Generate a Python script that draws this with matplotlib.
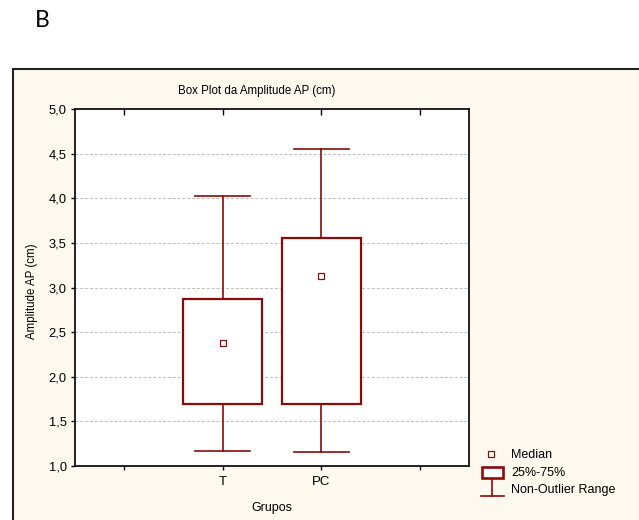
import matplotlib
matplotlib.use("Agg")
import matplotlib.pyplot as plt
from matplotlib.patches import Rectangle
from matplotlib.lines import Line2D

plt.rcParams['font.family'] = ['Liberation Sans', 'DejaVu Sans']

# Box plot statistics per group
groups = ["T", "PC"]
medians = [2.38, 3.13]
q1 = [1.69, 1.69]
q3 = [2.875, 3.555]
whisk_lo = [1.17, 1.16]
whisk_hi = [4.02, 4.55]

y_ticks = [1.0, 1.5, 2.0, 2.5, 3.0, 3.5, 4.0, 4.5, 5.0]
y_tick_labels = ["1,0", "1,5", "2,0", "2,5", "3,0", "3,5", "4,0", "4,5", "5,0"]

RED = "#8B0A0A"
W, H = 639, 520

fig = plt.figure(figsize=(W / 100, H / 100), dpi=100)
fig.patch.set_facecolor("white")

# Outer panel frame
frame = Rectangle((13 / W, -0.05), 1.2, (H - 69) / H + 0.05,
                  transform=fig.transFigure, facecolor="#FDF9EF",
                  edgecolor="#222222", linewidth=1.5, zorder=-5)
fig.patches.append(frame)

fig.text(42 / W, 1 - 20.5 / H, "B", fontsize=16.5, family=["Lato", "DejaVu Sans"],
         ha="center", va="center")

ax = fig.add_axes([75 / W, (H - 466) / H, (469 - 75) / W, (466 - 109) / H], zorder=2)
ax.set_facecolor("white")

positions = [1, 2]
stats = []
for g, m, a, b, lo, hi in zip(groups, medians, q1, q3, whisk_lo, whisk_hi):
    stats.append(dict(label=g, med=m, q1=a, q3=b, whislo=lo, whishi=hi, fliers=[]))

ax.bxp(stats, positions=positions, widths=0.8, showfliers=False,
       patch_artist=True,
       boxprops=dict(facecolor="white", edgecolor=RED, linewidth=1.6),
       whiskerprops=dict(color=RED, linewidth=1.2),
       capprops=dict(color=RED, linewidth=1.2),
       capwidths=0.56,
       medianprops=dict(linewidth=0), zorder=3)
ax.plot(positions, medians, linestyle="none", marker="s", markersize=4,
        markerfacecolor="white", markeredgecolor=RED, markeredgewidth=0.9, zorder=4)

ax.set_xlim(-0.5, 3.5)
ax.set_ylim(1.0, 5.0)
ax.set_xticks([0, 1, 2, 3])
ax.set_xticklabels(["", "T", "PC", ""], fontsize=9.5)
ax.set_yticks(y_ticks)
ax.set_yticklabels(y_tick_labels, fontsize=9.3)
ax.tick_params(axis="x", direction="out", length=3, width=1, top=False, pad=4)
ax.tick_params(axis="y", direction="out", length=3, width=1, right=False, pad=3)

# top ticks point inward
sec = ax.secondary_xaxis("top")
sec.set_xticks([0, 1, 2, 3])
sec.set_xticklabels([])
sec.tick_params(direction="in", length=4, width=1)
sec.spines["top"].set_visible(False)

for y in y_ticks[1:-1]:
    ax.axhline(y, color="#BDBDBD", linestyle=(0, (3, 2)), linewidth=0.7, zorder=1)

for s in ax.spines.values():
    s.set_linewidth(1.3)
    s.set_color("#111111")

ax.set_xlabel("Grupos", fontsize=9)
ax.xaxis.set_label_coords(0.5, (466 - 508) / (466 - 109))
ax.xaxis.label.set_va("center")
ax.set_ylabel("Amplitude AP (cm)", fontsize=8.3)
ax.yaxis.set_label_coords((32 - 75) / (469 - 75), (466 - 291) / (466 - 109))
ax.yaxis.label.set_va("center")
fig.text(257 / W, 1 - 91 / H, "Box Plot da Amplitude AP (cm)", fontsize=8.3,
         ha="center", va="center")

# Legend drawn in figure pixel space
def fx(x):
    return x / W

def fy(y):
    return 1 - y / H

fig.add_artist(Line2D([fx(491)], [fy(454)], marker="s", markersize=4,
                      markerfacecolor="white", markeredgecolor=RED,
                      markeredgewidth=0.9, linestyle="none"))
fig.patches.append(Rectangle((fx(481.5), fy(478)), (503.5 - 481.5) / W, (478 - 467) / H,
                             transform=fig.transFigure, facecolor="white",
                             edgecolor=RED, linewidth=1.9))
fig.add_artist(Line2D([fx(492), fx(492)], [fy(480), fy(496)], color=RED, linewidth=1.2))
fig.add_artist(Line2D([fx(481), fx(504)], [fy(496), fy(496)], color=RED, linewidth=1.2))
for txt, y in [("Median", 455), ("25%-75%", 473), ("Non-Outlier Range", 490)]:
    fig.text(fx(511), fy(y), txt, fontsize=9, ha="left", va="center")

fig.savefig("out.png", dpi=100)
